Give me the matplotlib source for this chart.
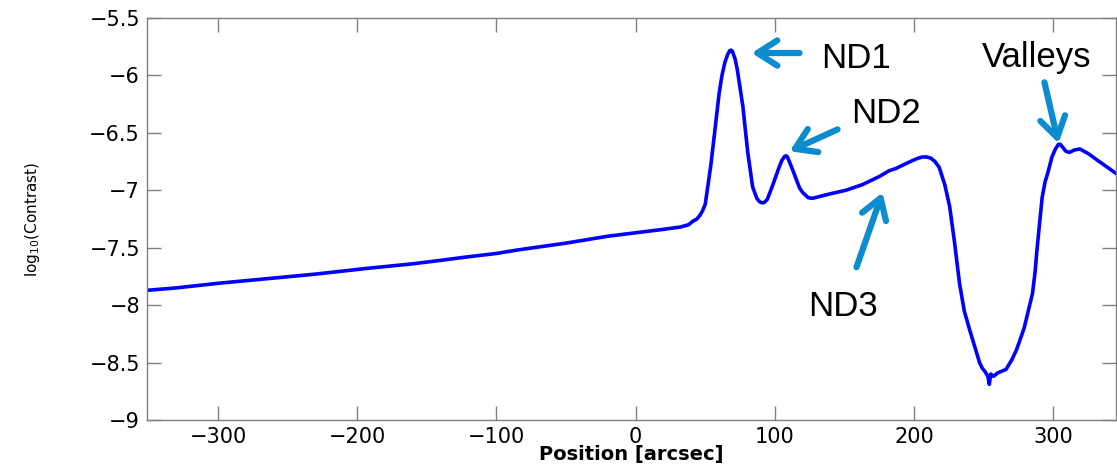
import matplotlib
matplotlib.use("Agg")
import matplotlib.pyplot as plt
import numpy as np

# curve: position [arcsec] vs log10(contrast)
pos = [-350, -330, -300, -265, -230, -193, -160, -140, -121, -100, -85, -50,
       -20, 0, 10, 20, 32, 38, 41, 44, 46, 48, 50, 52, 54, 56.7, 60, 62, 64,
       66, 67.5, 68.5, 69.5, 71.5, 73, 77, 80.5, 84, 87, 89, 91, 92.5, 94.5,
       98, 103, 105, 107, 108, 109, 110, 112.7, 117.7, 120, 124, 127, 140,
       151, 163, 175, 182, 187, 192, 199, 203, 206, 209, 212, 215, 218, 222,
       225.5, 229, 232.6, 236, 240, 244, 247, 249, 251, 253, 254, 255, 257,
       260, 262, 266, 270, 273.5, 277, 279, 281, 283, 285, 287, 288, 290,
       292, 294, 296, 299, 301.5, 303.7, 305, 307, 309, 311.5, 315, 319, 325,
       333, 340, 344.6]
logc = [-7.87, -7.85, -7.81, -7.77, -7.73, -7.68, -7.64, -7.61, -7.58, -7.55,
        -7.52, -7.46, -7.40, -7.37, -7.355, -7.34, -7.32, -7.30, -7.27, -7.25,
        -7.22, -7.18, -7.12, -6.95, -6.78, -6.50, -6.15, -6.00, -5.89, -5.82,
        -5.785, -5.78, -5.79, -5.86, -5.95, -6.27, -6.67, -6.97, -7.07, -7.10,
        -7.11, -7.105, -7.08, -6.97, -6.80, -6.74, -6.705, -6.70, -6.71, -6.74,
        -6.82, -6.98, -7.02, -7.065, -7.07, -7.03, -7.00, -6.95, -6.88, -6.83,
        -6.81, -6.78, -6.74, -6.72, -6.71, -6.71, -6.72, -6.75, -6.80, -6.95,
        -7.14, -7.45, -7.81, -8.05, -8.22, -8.38, -8.50, -8.55, -8.58, -8.62,
        -8.69, -8.60, -8.62, -8.59, -8.58, -8.56, -8.48, -8.39, -8.27, -8.20,
        -8.10, -8.00, -7.90, -7.70, -7.55, -7.30, -7.06, -6.93, -6.85, -6.71,
        -6.64, -6.60, -6.60, -6.63, -6.66, -6.67, -6.65, -6.64, -6.68, -6.75,
        -6.81, -6.85]

xticks = [-300, -200, -100, 0, 100, 200, 300]
yticks = [-9, -8.5, -8, -7.5, -7, -6.5, -6, -5.5]
ytick_labels = ["-9", "-8.5", "-8", "-7.5", "-7", "-6.5", "-6", "-5.5"]

arrow_col = "#0b8bd0"
grey = "#808080"

fig = plt.figure(figsize=(11.17, 4.65), dpi=100)
ax = fig.add_axes([0.1316, 0.0968, 0.8675, 0.8645])

ax.plot(pos, logc, color="#0000ff", lw=2.6, solid_joinstyle="round")

ax.set_xlim(-351, 345)
ax.set_ylim(-9, -5.5)
ax.set_xticks(xticks)
ax.set_xticklabels([str(t).replace("-", "\u2212") for t in xticks])
ax.set_yticks(yticks)
ax.set_yticklabels([s.replace("-", "\u2212") for s in ytick_labels])
ax.tick_params(direction="in", length=10, width=1, color=grey,
               labelsize=15, pad=5, top=True, right=True)
for sp in ax.spines.values():
    sp.set_color(grey)
    sp.set_linewidth(1)

ax.set_xlabel("Position [arcsec]", fontsize=14, fontweight="bold")
ax.xaxis.set_label_coords(0.5, -0.062)
ax.set_ylabel(r"log$_{10}$(Contrast)", fontsize=11)
ax.yaxis.set_label_coords(-0.108, 0.5)

# annotations
afont = dict(family="Liberation Sans", fontsize=25, color="black",
             va="baseline", ha="left")
aprops = dict(arrowstyle="->,head_length=0.55,head_width=0.35",
              color=arrow_col, lw=4.5, mutation_scale=26,
              shrinkA=0, shrinkB=0, capstyle="round", joinstyle="round")

ax.text(133.5, -5.935, "ND1", **afont)
ax.annotate("", xy=(83.3, -5.805), xytext=(117.7, -5.805), arrowprops=aprops)

ax.text(155, -6.414, "ND2", **afont)
ax.annotate("", xy=(110.6, -6.66), xytext=(145, -6.47), arrowprops=aprops)

ax.text(124.2, -8.094, "ND3", **afont)
ax.annotate("", xy=(177.3, -7.02), xytext=(158.6, -7.67), arrowprops=aprops)

ax.text(249, -5.93, "Valleys", **afont)
ax.annotate("", xy=(303.7, -6.59), xytext=(293.6, -6.06), arrowprops=aprops)

fig.savefig("out.png", dpi=100)
